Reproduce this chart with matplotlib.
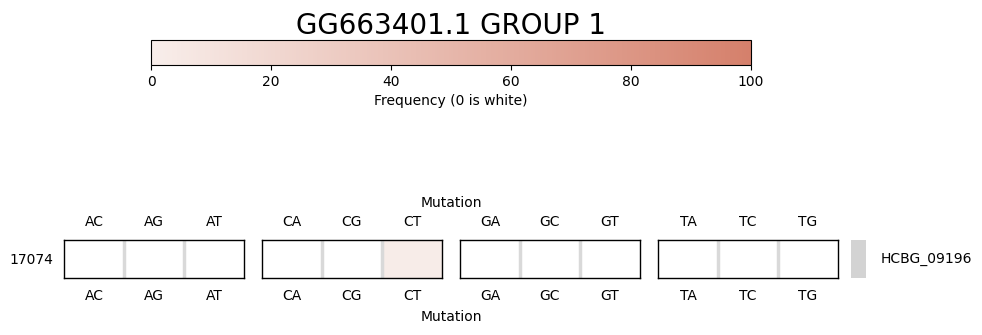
import numpy as np
import matplotlib
matplotlib.use("Agg")
import matplotlib.pyplot as plt
from matplotlib.colors import LinearSegmentedColormap, Normalize
from matplotlib.cm import ScalarMappable

title = "GG663401.1 GROUP 1"
groups = [["AC", "AG", "AT"], ["CA", "CG", "CT"], ["GA", "GC", "GT"], ["TA", "TC", "TG"]]
values = [[0, 0, 0], [0, 0, 2], [0, 0, 0], [0, 0, 0]]
row_label = "17074"
gene_label = "HCBG_09196"
cbar_ticks = [0, 20, 40, 60, 80, 100]

W, H = 982, 335
fig = plt.figure(figsize=(W / 100, H / 100), dpi=100)

def rect(x0, y0, x1, y1):
    return [x0 / W, 1 - y1 / H, (x1 - x0) / W, (y1 - y0) / H]

cmap = LinearSegmentedColormap.from_list("c", ["#f8eeeb", "#d5806b"])
norm = Normalize(0, 100)

xs = [64, 262, 460, 658]
for i, (labs, vals) in enumerate(zip(groups, values)):
    ax = fig.add_axes(rect(xs[i], 240, xs[i] + 180, 278))
    data = np.ma.masked_equal(np.array([vals], dtype=float), 0)
    ax.set_facecolor("white")
    ax.pcolormesh(np.arange(4), np.arange(2), data, cmap=cmap, norm=norm)
    for s in [1, 2]:
        ax.axvline(s, color="#d9d9d9", lw=2.5)
    ax.set_xlim(0, 3)
    ax.set_ylim(0, 1)
    ax.set_xticks(np.arange(3) + 0.5)
    ax.set_xticklabels(labs)
    ax.tick_params(axis="x", length=0, top=True, labeltop=True, bottom=True, labelbottom=True, pad=8)
    ax.tick_params(axis="y", length=0)
    if i == 0:
        ax.set_yticks([0.5])
        ax.set_yticklabels([row_label])
        ax.tick_params(axis="y", pad=8)
    else:
        ax.set_yticks([])
    for sp in ax.spines.values():
        sp.set_linewidth(1.0)

gax = fig.add_axes(rect(851, 240, 866, 278))
gax.set_facecolor("lightgray")
for sp in gax.spines.values():
    sp.set_visible(False)
gax.set_xticks([])
gax.set_yticks([])
fig.text(881 / W, 1 - 259 / H, gene_label, ha="left", va="center", fontsize=10)

fig.text(451 / W, 1 - 203 / H, "Mutation", ha="center", va="center", fontsize=10)
fig.text(451 / W, 1 - 317 / H, "Mutation", ha="center", va="center", fontsize=10)

cax = fig.add_axes(rect(151, 40, 751, 65))
cb = fig.colorbar(ScalarMappable(norm=norm, cmap=cmap), cax=cax, orientation="horizontal", ticks=cbar_ticks)
cb.set_label("Frequency (0 is white)", fontsize=10)
cax.set_title(title, fontsize=20, pad=4)

fig.savefig("out.png", dpi=100)
